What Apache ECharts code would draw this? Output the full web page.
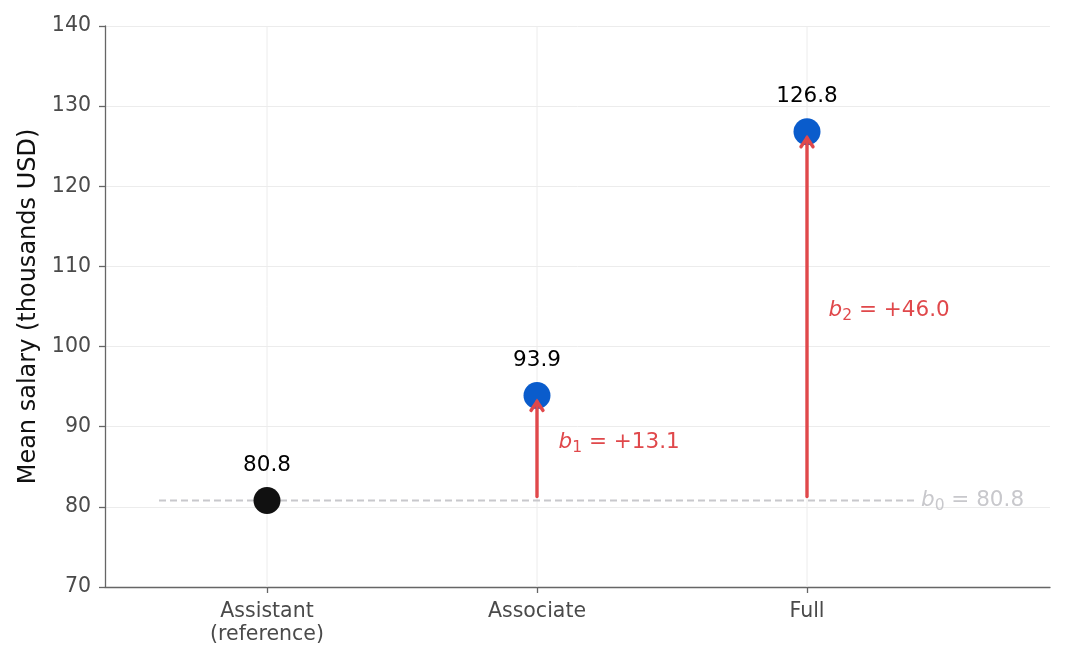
<!DOCTYPE html>
<html>
<head>
<meta charset="utf-8">
<script src="https://cdn.jsdelivr.net/npm/echarts@6/dist/echarts.min.js"></script>
<style>
  html, body { margin: 0; padding: 0; background: #fff; }
  #chart { width: 1068px; height: 663px; }
</style>
</head>
<body>
<div id="chart"></div>
<script>
// rank categories and their mean salaries (thousands USD)
const ranks = ['Assistant\n(reference)', 'Associate', 'Full'];
const means = [80.8, 93.9, 126.8];
const pointColors = ['#111111', '#0a5ccc', '#0a5ccc'];
// dummy-coded effects relative to the reference
const coefNames = ['b0', 'b1', 'b2'];
const coefValues = [80.8, 13.1, 46.0];
const yTicks = [70, 80, 90, 100, 110, 120, 130, 140];

const RED = '#e0484b';
const FONT = 'DejaVu Sans';
const b0 = coefValues[0];

// rich text for italic b with subscript
function coefText(i, txt) {
    return '{it|b}{sub|' + i + '}{n| = ' + txt + '}';
}
function richStyle(color) {
    return {
        it: { fontStyle: 'italic', fontSize: 21.5, fontFamily: FONT, color: color, fill: color, lineHeight: 28 },
        sub: { fontSize: 15.5, fontFamily: FONT, color: color, fill: color, lineHeight: 28, verticalAlign: 'bottom' },
        n: { fontSize: 21.5, fontFamily: FONT, color: color, fill: color, lineHeight: 28 }
    };
}

var chart = echarts.init(document.getElementById('chart'));

var option = {
    backgroundColor: '#ffffff',
    animation: false,
    grid: { left: 105, right: 18, top: 26, bottom: 76 },
    xAxis: {
        type: 'value',
        min: -0.6,
        max: 2.9,
        axisLine: { show: true, onZero: false, lineStyle: { color: '#666', width: 1.3 } },
        axisTick: { show: true, inside: false, length: 6, customValues: [0, 1, 2], lineStyle: { color: '#666', width: 1.3 } },
        axisLabel: {
            customValues: [0, 1, 2],
            margin: 13,
            color: '#4a4a4a',
            fontSize: 20.5,
            fontFamily: FONT,
            lineHeight: 23,
            formatter: function (v) { return ranks[Math.round(v)]; }
        },
        splitLine: { show: false }
    },
    yAxis: {
        type: 'value',
        min: yTicks[0],
        max: yTicks[yTicks.length - 1],
        interval: 10,
        name: 'Mean salary (thousands USD)',
        nameLocation: 'middle',
        nameGap: 62,
        nameTextStyle: { color: '#111', fontSize: 24, fontFamily: FONT },
        axisLine: { show: true, onZero: false, lineStyle: { color: '#666', width: 1.3 } },
        axisTick: { show: true, inside: false, length: 6, lineStyle: { color: '#666', width: 1.3 } },
        axisLabel: { color: '#4a4a4a', fontSize: 20.5, fontFamily: FONT, margin: 14, padding: [4, 0, 0, 0] },
        splitLine: { show: true, lineStyle: { color: '#ececec', width: 1 } }
    },
    series: [
        {
            // vertical grid lines at the categories
            type: 'custom',
            z: 1,
            silent: true,
            data: ranks.map(function (r, i) { return [i]; }),
            renderItem: function (params, api) {
                var p0 = api.coord([api.value(0), yTicks[0]]);
                var p1 = api.coord([api.value(0), yTicks[yTicks.length - 1]]);
                return {
                    type: 'line',
                    shape: { x1: p0[0], y1: p0[1], x2: p1[0], y2: p1[1] },
                    style: { stroke: '#ececec', lineWidth: 1 }
                };
            }
        },
        {
            // reference line at b0
            type: 'line',
            z: 2,
            silent: true,
            showSymbol: false,
            data: [[-0.4, b0], [2.4, b0]],
            lineStyle: { color: '#c8c8cc', width: 2, type: [7, 4] },
            endLabel: {
                show: true,
                formatter: function () { return coefText(0, b0.toFixed(1)); },
                rich: richStyle('#c8c8cc'),
                distance: 6
            }
        },
        {
            // group means
            type: 'scatter',
            z: 4,
            symbolSize: 27,
            itemStyle: { opacity: 1 },
            data: means.map(function (m, i) {
                return { value: [i, m], itemStyle: { color: pointColors[i], opacity: 1 } };
            }),
            label: {
                show: true,
                position: 'top',
                distance: 11,
                color: '#000',
                opacity: 1,
                fontSize: 21.5,
                fontFamily: FONT,
                formatter: function (p) { return p.value[1].toFixed(1); }
            }
        },
        {
            // arrows showing b1, b2 (drawn above the points)
            type: 'custom',
            z: 5,
            silent: true,
            data: [[1, means[1], coefValues[1]], [2, means[2], coefValues[2]]],
            renderItem: function (params, api) {
                var x = api.value(0);
                var top = api.coord([x, api.value(1)]);
                var bot = api.coord([x, b0]);
                var tipY = top[1] + 6;
                var startY = bot[1] - 4;
                var mid = api.coord([x + 0.08, (b0 + api.value(1)) / 2]);
                var idx = params.dataIndex + 1;
                return {
                    type: 'group',
                    children: [
                        {
                            type: 'line',
                            shape: { x1: top[0], y1: startY, x2: top[0], y2: tipY },
                            style: { stroke: RED, lineWidth: 3.4, lineCap: 'round' }
                        },
                        {
                            type: 'polyline',
                            shape: { points: [[top[0] - 6, tipY + 9], [top[0], tipY], [top[0] + 6, tipY + 9]] },
                            style: { stroke: RED, lineWidth: 3.4, fill: null, lineCap: 'round', lineJoin: 'miter' }
                        },
                        {
                            type: 'text',
                            x: mid[0],
                            y: mid[1] - 6,
                            style: {
                                text: coefText(idx, '+' + api.value(2).toFixed(1)),
                                rich: richStyle(RED),
                                fill: RED,
                                align: 'left',
                                verticalAlign: 'middle'
                            }
                        }
                    ]
                };
            }
        }
    ]
};

chart.setOption(option);
</script>
</body>
</html>
